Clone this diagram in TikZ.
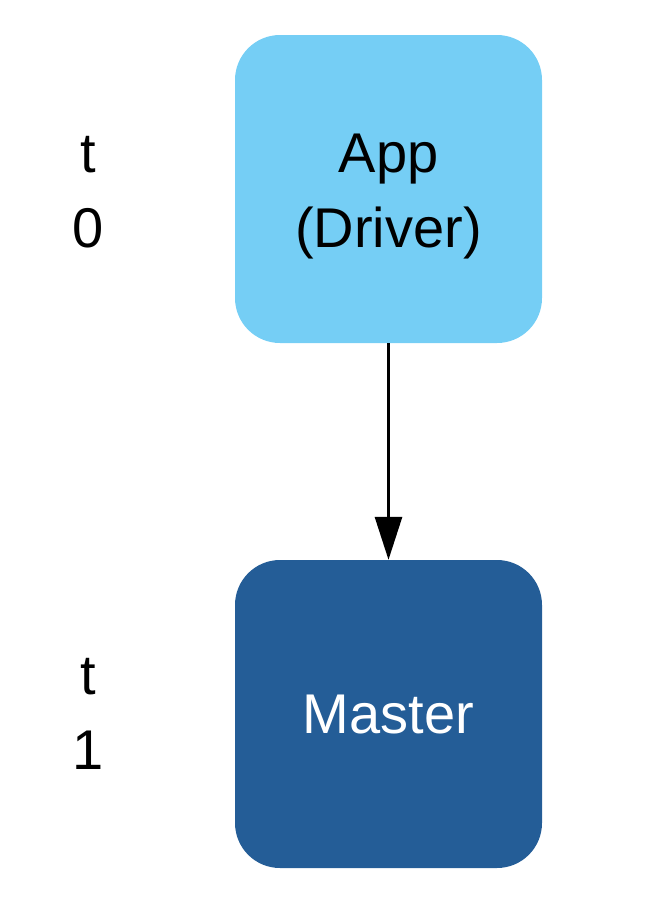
\documentclass[tikz,border=0pt]{standalone}
\usepackage{fontspec}
\setmainfont{Liberation Sans}
\usepackage{tikz}
\usetikzlibrary{arrows.meta}
\definecolor{appblue}{HTML}{75CEF5}
\definecolor{masterblue}{HTML}{245D97}

\begin{document}
\begin{tikzpicture}[x=1pt, y=-1pt,
  box/.style = {rounded corners=45pt, minimum width=307pt, minimum height=308pt, inner sep=0pt, align=center, font=\fontsize{56}{75}\selectfont},
  tick/.style = {align=center, inner sep=0pt, font=\fontsize{56}{75}\selectfont}]
\useasboundingbox (0,0) rectangle (663,903);
\node[box, fill=appblue] (app) at (388.5,189) {};
\node[tick] (applabel) at (388.5,197) {App\\(Driver)};
\node[box, fill=masterblue, text=white] (master) at (388.5,714) {Master};
\node[tick] (t0) at (88,192) {t\\0};
\node[tick] (t1) at (88,714) {t\\1};

\draw[line width=3pt, -{Triangle[length=43pt, width=27pt]}] (app.south)--(master.north);
\end{tikzpicture}
\end{document}
